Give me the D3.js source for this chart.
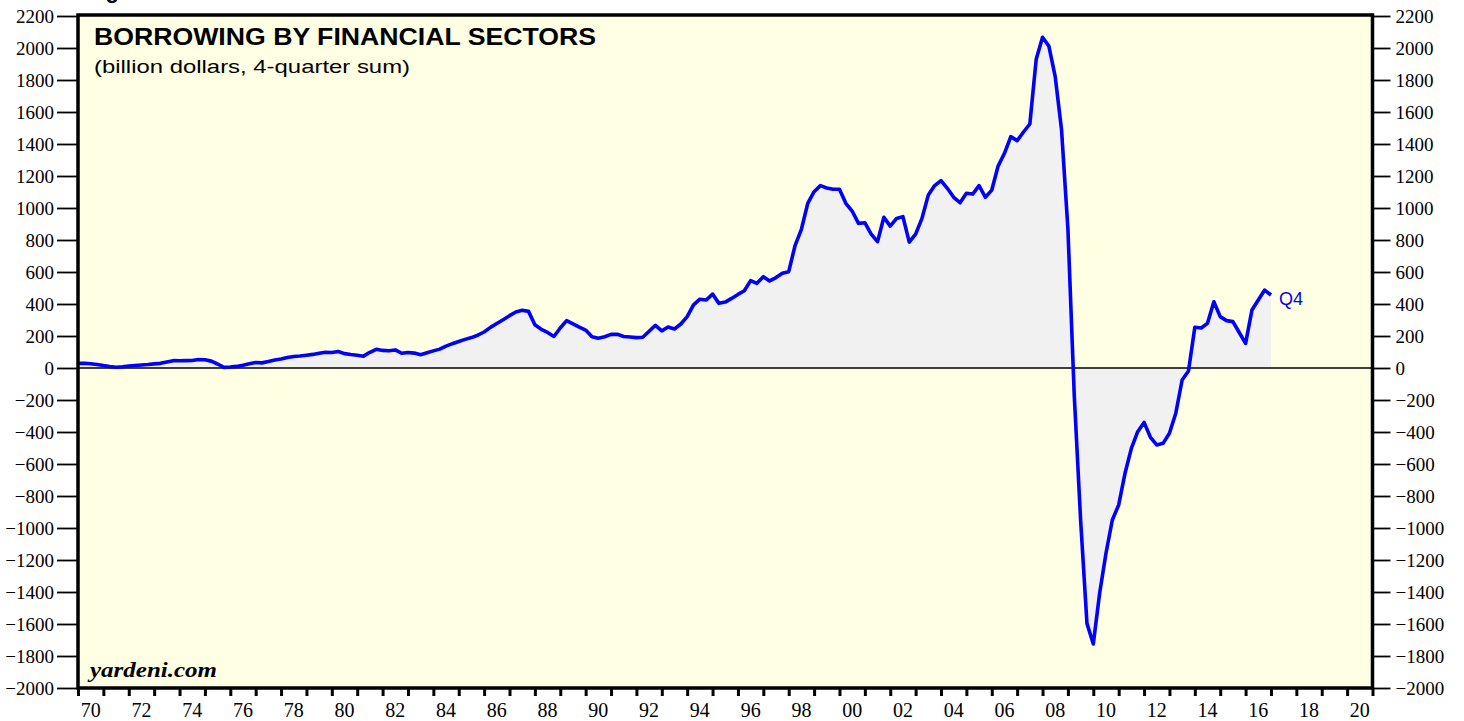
<!DOCTYPE html>
<html>
<head>
<meta charset="utf-8">
<script src="https://cdn.jsdelivr.net/npm/d3@7"></script>
<style>
  html, body { margin: 0; padding: 0; background: #ffffff; }
  svg { display: block; }
</style>
</head>
<body>
<svg id="chart" width="1464" height="721"></svg>
<script>
// ---- DATA ----
const firstQuarterEnd = 1970.0; // 1969Q4 plotted at quarter end
const borrowing = [
  29,
  30, 27, 22, 15,        // 1970
  9, 5, 8, 12,           // 1971
  16, 19, 22, 26,        // 1972
  29, 38, 46, 45,        // 1973
  46, 47, 53, 52,        // 1974
  43, 25, 4, 6,          // 1975
  10, 17, 27, 34,        // 1976
  32, 40, 50, 56,        // 1977
  65, 72, 75, 80,        // 1978
  85, 92, 98, 97,        // 1979
  103, 90, 84, 80,       // 1980
  74, 98, 117, 110,      // 1981
  108, 113, 92, 97,      // 1982
  93, 83, 95, 107,       // 1983
  118, 137, 152, 166,    // 1984
  179, 190, 205, 225,    // 1985
  254, 278, 302, 327,    // 1986
  350, 361, 354, 270,    // 1987
  242, 222, 197, 250,    // 1988
  296, 276, 256, 237,    // 1989
  195, 186, 195, 210,    // 1990
  211, 197, 194, 190,    // 1991
  192, 230, 267, 232,    // 1992
  256, 244, 275, 321,    // 1993
  395, 430, 425, 462,    // 1994
  404, 412, 435, 460,    // 1995
  483, 546, 529, 571,    // 1996
  544, 565, 592, 602,    // 1997
  765, 867, 1029, 1102,  // 1998
  1140, 1125, 1117, 1117,// 1999
  1029, 981, 904, 908,   // 2000
  837, 790, 942, 887,    // 2001
  935, 946, 787, 837,    // 2002
  935, 1081, 1140, 1171, // 2003
  1123, 1067, 1033, 1092,// 2004
  1087, 1140, 1067, 1112,// 2005
  1262, 1342, 1446, 1421,// 2006
  1475, 1525, 1929, 2067,// 2007
  2012, 1821, 1487, 870, // 2008
  -171, -950, -1596, -1725, // 2009
  -1408, -1158, -950, -856, // 2010
  -658, -502, -398, -340,   // 2011
  -433, -481, -471, -408,   // 2012
  -283, -75, -19, 255,      // 2013
  250, 279, 414, 321,       // 2014
  296, 290, 222, 154,       // 2015
  362, 425, 487, 456        // 2016
];
const yTicks = [-2000,-1800,-1600,-1400,-1200,-1000,-800,-600,-400,-200,0,200,400,600,800,1000,1200,1400,1600,1800,2000,2200];
const yearLabels = ["70","72","74","76","78","80","82","84","86","88","90","92","94","96","98","00","02","04","06","08","10","12","14","16","18","20"];
const labelYears = [1970,1972,1974,1976,1978,1980,1982,1984,1986,1988,1990,1992,1994,1996,1998,2000,2002,2004,2006,2008,2010,2012,2014,2016,2018,2020];
const title = "BORROWING BY FINANCIAL SECTORS";
const subtitle = "(billion dollars, 4-quarter sum)";
const lastLabel = "Q4";
const source = "yardeni.com";

// ---- LAYOUT ----
const pL = 78, pR = 1372.5, pT = 16, pB = 688;
const svg = d3.select("#chart");

const x = d3.scaleLinear().domain([1970, 2021]).range([pL, pR]);
const y = d3.scaleLinear().domain([-2000, 2200]).range([pB, pT]);

const series = borrowing.map((v, i) => ({ t: firstQuarterEnd + i * 0.25, v }));

// figure caption (cut off at top)
svg.append("text")
  .attr("x", 86).attr("y", -2)
  .attr("font-family", "Liberation Sans, Arial, sans-serif")
  .attr("font-weight", "bold").attr("font-size", 22)
  .attr("fill", "#000").text("Figure 3.");

// plot background
svg.append("rect")
  .attr("x", pL).attr("y", pT - 1)
  .attr("width", pR - pL).attr("height", pB - pT + 1)
  .attr("fill", "#ffffe3");

// area
const area = d3.area().x(d => x(d.t)).y0(y(0)).y1(d => y(d.v));
svg.append("path").datum(series)
  .attr("d", area).attr("fill", "#f1f1f1");

// zero line
svg.append("line")
  .attr("x1", pL).attr("x2", pR)
  .attr("y1", y(0)).attr("y2", y(0))
  .attr("stroke", "#000").attr("stroke-width", 1.5);

// line
const line = d3.line().x(d => x(d.t)).y(d => y(d.v));
svg.append("path").datum(series)
  .attr("d", line).attr("fill", "none")
  .attr("stroke", "#0000ff").attr("stroke-width", 3.6)
  .attr("stroke-linejoin", "round");

// last-value label
const last = series[series.length - 1];
svg.append("text")
  .attr("x", x(last.t) + 8).attr("y", y(last.v) + 10)
  .attr("font-family", "Liberation Sans, Arial, sans-serif")
  .attr("font-size", 18).attr("fill", "#0000ff").text(lastLabel);

// frame
svg.append("rect")
  .attr("x", pL).attr("y", pT - 1)
  .attr("width", pR - pL).attr("height", pB - pT + 1)
  .attr("fill", "none").attr("stroke", "#000").attr("stroke-width", 3.5);

// axes
const tickFont = "Liberation Serif, 'Times New Roman', serif";
const leftAxis = d3.axisLeft(y).tickValues(yTicks).tickSize(21).tickPadding(3).tickFormat(d3.format("d"));
const gl = svg.append("g").attr("transform", `translate(${pL},0)`).call(leftAxis);
const rightAxis = d3.axisRight(y).tickValues(yTicks).tickSize(18).tickPadding(5).tickFormat(d3.format("d"));
const gr = svg.append("g").attr("transform", `translate(${pR},0)`).call(rightAxis);
[gl, gr].forEach(g => {
  g.select(".domain").remove();
  g.selectAll(".tick line").attr("stroke", "#000").attr("stroke-width", 1.8);
  g.selectAll(".tick text").attr("font-family", tickFont).attr("font-size", 19).attr("fill", "#000");
});

const years = d3.range(1970, 2022);
const bottomAxis = d3.axisBottom(x).tickValues(years).tickSize(8).tickFormat("");
const gb = svg.append("g").attr("transform", `translate(0,${pB})`).call(bottomAxis);
gb.select(".domain").remove();
gb.selectAll(".tick line").attr("stroke", "#000").attr("stroke-width", 3);

svg.append("g").selectAll("text").data(labelYears).join("text")
  .attr("x", (d) => x(d + 0.5)).attr("y", 717)
  .attr("text-anchor", "middle")
  .attr("font-family", tickFont).attr("font-size", 20).attr("fill", "#000")
  .text((d, i) => yearLabels[i]);

// titles
svg.append("text")
  .attr("x", 94).attr("y", 45)
  .attr("font-family", "Liberation Sans, Arial, sans-serif")
  .attr("font-weight", "bold").attr("font-size", 23)
  .attr("textLength", 502).attr("lengthAdjust", "spacingAndGlyphs")
  .attr("fill", "#000").text(title);
svg.append("text")
  .attr("x", 94).attr("y", 73)
  .attr("font-family", "Liberation Sans, Arial, sans-serif")
  .attr("font-size", 19)
  .attr("textLength", 316).attr("lengthAdjust", "spacingAndGlyphs")
  .attr("fill", "#000").text(subtitle);

svg.append("text")
  .attr("x", 90).attr("y", 677)
  .attr("font-family", "Liberation Serif, 'Times New Roman', serif")
  .attr("font-weight", "bold").attr("font-style", "italic").attr("font-size", 21)
  .attr("textLength", 127).attr("lengthAdjust", "spacingAndGlyphs")
  .attr("fill", "#000").text(source);
</script>
</body>
</html>
